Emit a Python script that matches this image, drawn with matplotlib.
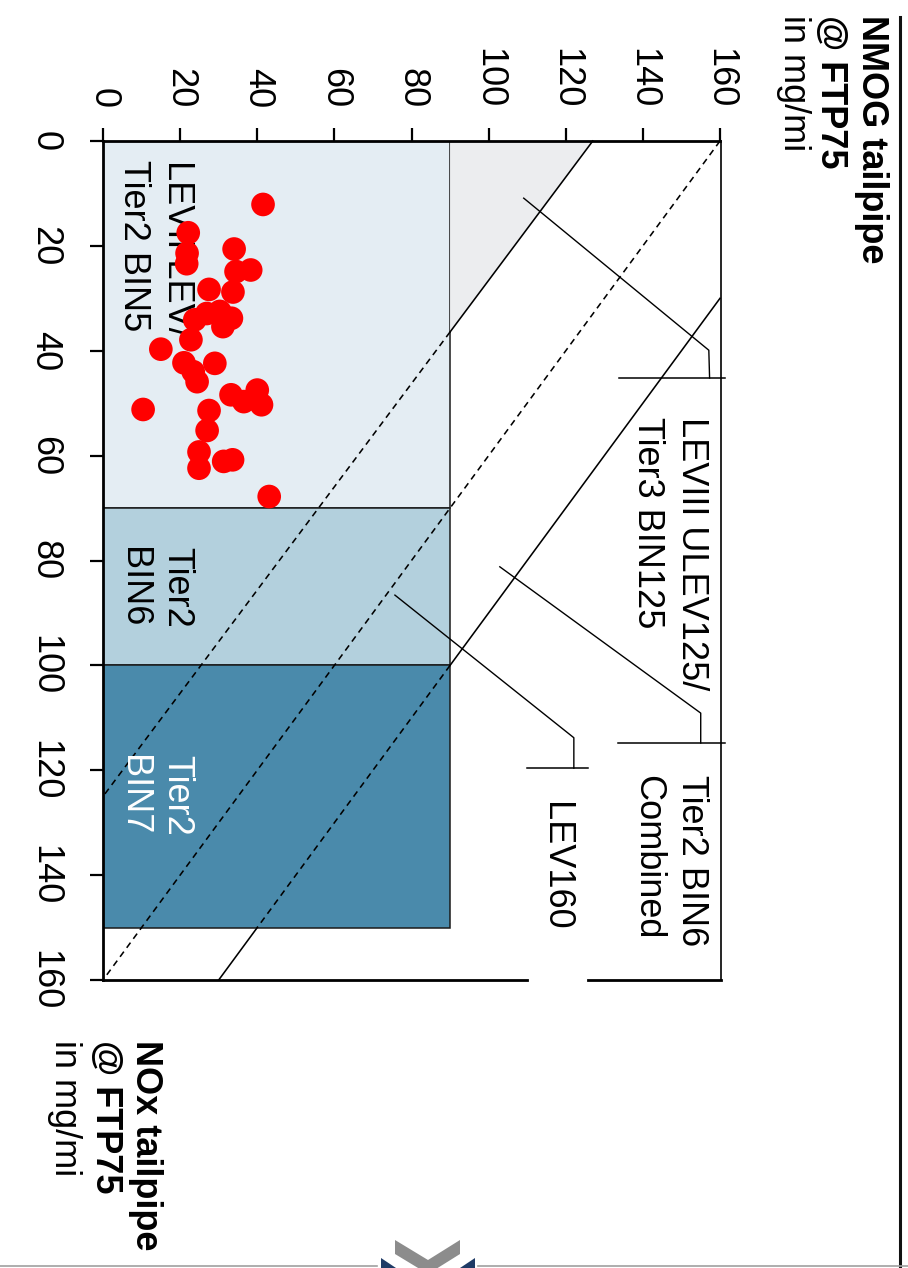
import matplotlib
matplotlib.use("Agg")
import matplotlib.pyplot as plt
from matplotlib.patches import Rectangle, Polygon
import numpy as np

plt.rcParams['font.family'] = ['Liberation Sans', 'DejaVu Sans']

W, H = 908, 1268
DPI = 100

# Measured tailpipe emissions of tested vehicles (mg/mi)
nmog = [41.5, 22.1, 21.8, 21.7, 34.0, 38.3, 34.5, 27.5, 33.7, 26.9, 23.8,
        30.3, 33.3, 31.1, 22.8, 15.0, 21.0, 29.0, 23.4, 24.4, 33.2, 40.0,
        36.5, 41.1, 10.4, 27.5, 27.0, 24.9, 24.9, 31.3, 33.6, 43.1]
nox = [12.1, 17.5, 21.4, 23.4, 20.6, 24.6, 24.9, 28.3, 28.8, 32.9, 34.1,
       32.5, 33.8, 35.4, 37.9, 39.7, 42.3, 42.4, 44.0, 45.9, 48.4, 47.5,
       49.7, 50.3, 51.2, 51.4, 55.2, 59.3, 62.4, 61.1, 60.8, 67.8]

ticks = [0, 20, 40, 60, 80, 100, 120, 140, 160]

# Tier2 bins: separate NOx limits with a shared NMOG limit
bin_labels = [("LEVII LEV/", "Tier2 BIN5"), ("Tier2", "BIN6"), ("Tier2", "BIN7")]
bin_nox_low = [0, 70, 100]
bin_nox_high = [70, 100, 150]
bin_nmog_limit = 90
bin_colors = ['#E4EDF3', '#B3D0DD', '#4A8AAB']
bin_text_colors = ['black', 'black', 'white']

# Combined NMOG+NOx limit lines, end points as (NMOG, NOx)
ulev125_line = {'nmog': [127, 0], 'nox': [0, 125]}
lev160_line = {'nmog': [160, 0], 'nox': [0, 160]}
bin6_comb_line = {'nmog': [160, 30], 'nox': [30, 160]}

# Callout leaders from each line to its label
leader_ulev125 = {'nmog': [109.1, 157.1, 157.3], 'nox': [10.9, 39.9, 45.2]}
leader_bin6 = {'nmog': [102.9, 155.0, 155.0], 'nox': [81.2, 109.1, 114.8]}
leader_lev160 = {'nmog': [75.7, 122.1, 122.1], 'nox': [86.6, 113.8, 119.6]}

fig = plt.figure(figsize=(W / DPI, H / DPI), dpi=DPI)
fig.patch.set_facecolor('white')


def px(x, y):
    return x / W, 1 - y / H


ax = fig.add_axes([103 / W, 1 - 980 / H, (720 - 103) / W, (980 - 141) / H])
ax.set_xlim(0, 160)
ax.set_ylim(160, 0)
ax.set_facecolor('none')

for s in ['right', 'bottom']:
    ax.spines[s].set_visible(False)
for s in ['top', 'left']:
    ax.spines[s].set_linewidth(2.0)
    ax.spines[s].set_zorder(6)

ax.xaxis.tick_top()
ax.set_xticks(ticks)
ax.set_yticks(ticks)
ax.set_xticklabels([str(t) for t in ticks])
ax.set_yticklabels([str(t) for t in ticks])
ax.tick_params(axis='x', direction='out', length=9.4, width=1.6, pad=14,
               labelsize=26, labelrotation=270)
ax.tick_params(axis='y', direction='out', length=9.4, width=1.6, pad=20,
               labelsize=26, labelrotation=270)
for lbl in ax.get_yticklabels():
    lbl.set_va('center')

# Bin boxes
for lo, hi, col in zip(bin_nox_low, bin_nox_high, bin_colors):
    ax.add_patch(Rectangle((0, lo), bin_nmog_limit, hi - lo, facecolor=col,
                           edgecolor='#1a1a1a', linewidth=1.1, zorder=1))


def point_at(line, t):
    n0, n1 = line['nmog']
    o0, o1 = line['nox']
    return n0 + (n1 - n0) * t, o0 + (o1 - o0) * t


def draw_split(line):
    """Solid outside the bin boxes, dashed where the line crosses them."""
    n0, n1 = line['nmog']
    o0, o1 = line['nox']
    ta = (bin_nmog_limit - n0) / (n1 - n0)
    tb = (max(bin_nox_high) - o0) / (o1 - o0)
    ta, tb = np.clip(ta, 0, 1), np.clip(tb, 0, 1)
    segs = [(0, ta, '-'), (ta, tb, (0, (4, 3))), (tb, 1, '-')]
    for a, b, ls in segs:
        if b <= a:
            continue
        pa, pb = point_at(line, a), point_at(line, b)
        ax.plot([pa[0], pb[0]], [pa[1], pb[1]], color='black', lw=1.15,
                linestyle=ls, zorder=3, clip_on=False)


# Grey area between the BIN5 NMOG limit and the ULEV125 line
t_edge = (bin_nmog_limit - ulev125_line['nmog'][0]) / (ulev125_line['nmog'][1] - ulev125_line['nmog'][0])
edge_pt = point_at(ulev125_line, t_edge)
ax.add_patch(Polygon([(bin_nmog_limit, 0), (ulev125_line['nmog'][0], 0), edge_pt],
                     closed=True, facecolor='#ECEDEF', edgecolor='none', zorder=1))

draw_split(ulev125_line)
draw_split(bin6_comb_line)
ax.plot(lev160_line['nmog'], lev160_line['nox'], color='black', lw=1.15,
        linestyle=(0, (4, 3)), zorder=3)

for ld in (leader_ulev125, leader_bin6, leader_lev160):
    ax.plot(ld['nmog'], ld['nox'], color='black', lw=1.0, zorder=3, clip_on=False)

# Label frames
ax.plot([133.7, 161.2], [45.2, 45.2], color='black', lw=1.1, clip_on=False, zorder=3)
ax.plot([133.5, 161.2], [114.8, 114.8], color='black', lw=1.1, clip_on=False, zorder=3)
ax.plot([109.9, 125.7], [119.6, 119.6], color='black', lw=1.1, clip_on=False, zorder=3)
ax.plot([160.3, 160.3], [0, 160], color='black', lw=1.2, clip_on=False, zorder=3)
ax.plot([0, 109.9], [160, 160], color='black', lw=2.0, clip_on=False, zorder=5)
ax.plot([125.7, 160.3], [160, 160], color='black', lw=2.0, clip_on=False, zorder=5)

# Bin labels
bin_label_top = [3.6, 77.4, 117.0]
for (l1, l2), top, tc in zip(bin_labels, bin_label_top, bin_text_colors):
    ax.text(19.2, top, l1, rotation=270, ha='center', va='top', fontsize=26,
            color=tc, zorder=4)
    ax.text(7.8, top, l2, rotation=270, ha='center', va='top', fontsize=26,
            color=tc, zorder=4)

# Standard labels beside the plot
ax.text(152.6, 52.6, "LEVIII ULEV125/", rotation=270, ha='center', va='top',
        fontsize=26, zorder=4, clip_on=False)
ax.text(141.3, 52.6, "Tier3 BIN125", rotation=270, ha='center', va='top',
        fontsize=26, zorder=4, clip_on=False)
ax.text(152.6, 120.9, "Tier2 BIN6", rotation=270, ha='center', va='top',
        fontsize=26, zorder=4, clip_on=False)
ax.text(141.3, 120.9, "Combined", rotation=270, ha='center', va='top',
        fontsize=26, zorder=4, clip_on=False)
ax.text(117.4, 126.0, "LEV160", rotation=270, ha='center', va='top',
        fontsize=26, zorder=4, clip_on=False)

# Vehicle results
ax.scatter(nmog, nox, s=290, color='#FF0000', edgecolors='none', zorder=7,
           clip_on=False)

# Axis titles
fig.text(*px(871, 15), "NMOG tailpipe", rotation=270, ha='center', va='top',
         fontsize=26, fontweight='bold')
fig.text(*px(831, 15), "@ FTP75", rotation=270, ha='center', va='top',
         fontsize=26, fontweight='bold')
fig.text(*px(793, 15), "in mg/mi", rotation=270, ha='center', va='top',
         fontsize=26)
fig.text(*px(145, 1040), "NOx tailpipe", rotation=270, ha='center', va='top',
         fontsize=26, fontweight='bold')
fig.text(*px(105, 1040), "@ FTP75", rotation=270, ha='center', va='top',
         fontsize=26, fontweight='bold')
fig.text(*px(64, 1040), "in mg/mi", rotation=270, ha='center', va='top',
         fontsize=26)

# Page frame and logo
fig.add_artist(plt.Line2D([900 / W, 900 / W], [1 - 17 / H, 0], color='#111111',
                          lw=2.2, transform=fig.transFigure))
fig.add_artist(plt.Line2D([0, 377 / W], [1 - 1266 / H] * 2, color='#A0A0A0',
                          lw=1.2, transform=fig.transFigure))
fig.add_artist(plt.Line2D([478 / W, 1], [1 - 1266 / H] * 2, color='#A0A0A0',
                          lw=1.2, transform=fig.transFigure))
fig.add_artist(Polygon([px(395, 1240), px(428, 1260), px(460, 1240), px(460, 1254),
                        px(428, 1274), px(395, 1254)], closed=True,
                       facecolor='#8C8C8C', edgecolor='none',
                       transform=fig.transFigure))
fig.add_artist(Polygon([px(381, 1258), px(381, 1270), px(399, 1270)], closed=True,
                       facecolor='#1F3B66', edgecolor='none',
                       transform=fig.transFigure))
fig.add_artist(Polygon([px(475, 1258), px(475, 1270), px(457, 1270)], closed=True,
                       facecolor='#1F3B66', edgecolor='none',
                       transform=fig.transFigure))

fig.savefig("out.png", dpi=DPI, facecolor='white')
